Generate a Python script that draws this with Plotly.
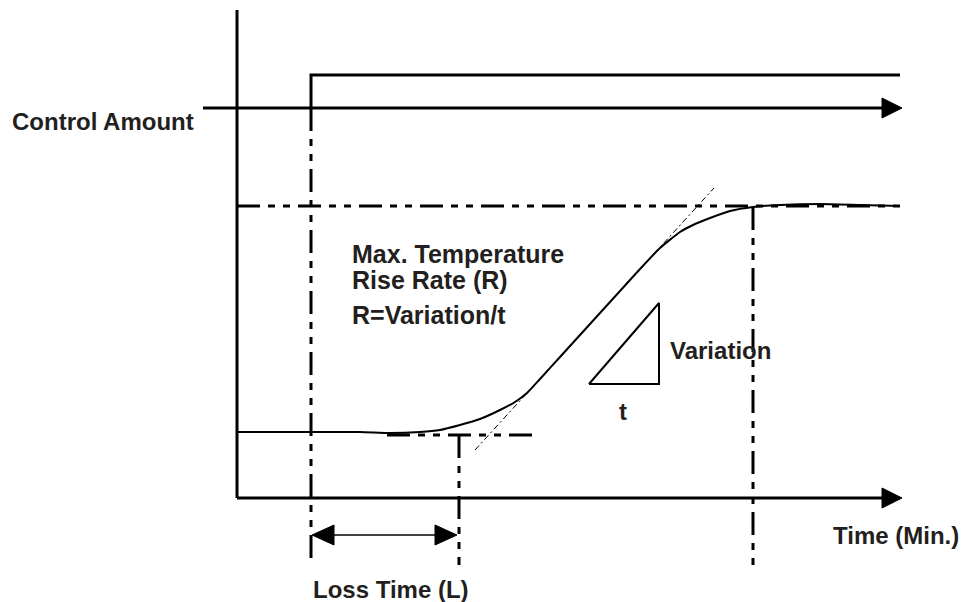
import plotly.graph_objects as go

# ---- data (diagram coordinates: x = time, y = screen-like level, inverted axis) ----
curve_t = [237, 300, 360, 390, 420, 440, 460, 480, 500, 515, 527, 540, 560, 580, 600,
           620, 640, 660, 680, 693, 710, 730, 753, 780, 820, 860, 900]
curve_v = [432, 432, 432, 433, 432, 430, 425, 419, 410, 402, 393, 379, 357, 335, 313,
           291, 269, 248, 232, 225, 218, 211, 207, 205, 204, 205, 206]

tangent_t = [475, 714]
tangent_v = [450, 188]

triangle_t = [589, 659, 659, 589]
triangle_v = [384, 303, 384, 384]

step_t = [311, 311, 900]
step_v = [108, 75, 75]

t_origin, t_step, t_loss, t_settle, t_end = 237, 311, 459, 753, 900
level_ctrl, level_final, level_init, level_axis = 108, 206, 435, 498

labels = {
    "ctrl": "Control Amount",
    "max1": "Max. Temperature",
    "max2": "Rise Rate (R)",
    "max3": "R=Variation/t",
    "var": "Variation",
    "t": "t",
    "time": "Time (Min.)",
    "loss": "Loss Time (L)",
}

W, H = 964, 602
BLACK = "#000000"
TXT = "#231F20"
DASH = "23px,8px,7px,8px,7px,8px"

fig = go.Figure()

# response curve
fig.add_trace(go.Scatter(x=curve_t, y=curve_v, mode="lines",
                         line=dict(color=BLACK, width=2, shape="spline", smoothing=0.5),
                         hoverinfo="skip", showlegend=False))
# tangent
fig.add_trace(go.Scatter(x=tangent_t, y=tangent_v, mode="lines",
                         line=dict(color=BLACK, width=1, dash="6px,3px,2px,3px"),
                         hoverinfo="skip", showlegend=False))
# triangle
fig.add_trace(go.Scatter(x=triangle_t, y=triangle_v, mode="lines",
                         line=dict(color=BLACK, width=2),
                         hoverinfo="skip", showlegend=False))
# step of control amount
fig.add_trace(go.Scatter(x=step_t, y=step_v, mode="lines",
                         line=dict(color=BLACK, width=3),
                         hoverinfo="skip", showlegend=False))

shapes = []

def line(x0, y0, x1, y1, width=3, dash=None):
    d = dict(type="line", xref="x", yref="y", x0=x0, y0=y0, x1=x1, y1=y1,
             line=dict(color=BLACK, width=width))
    if dash:
        d["line"]["dash"] = dash
    shapes.append(d)

def tri(pts):
    p = "M " + " L ".join(f"{a},{b}" for a, b in pts) + " Z"
    shapes.append(dict(type="path", xref="x", yref="y", path=p,
                       fillcolor=BLACK, line=dict(color=BLACK, width=1)))

# axes
line(t_origin, 10, t_origin, level_axis, 3)
line(t_origin, level_axis, 884, level_axis, 3)
tri([(882, level_axis - 10), (902, level_axis), (882, level_axis + 10)])
# control amount arrow
line(203, level_ctrl, 884, level_ctrl, 3)
tri([(882, level_ctrl - 10), (902, level_ctrl), (882, level_ctrl + 10)])
# dashed guides
line(t_origin, level_final, t_end, level_final, 3, DASH)
line(t_step, level_ctrl, t_step, 565, 3, DASH)
line(t_loss, level_init, t_loss, 565, 3, DASH)
line(t_settle, 207, t_settle, 565, 3, DASH)
line(387, level_init, 533, level_init, 3, DASH)
# loss-time double arrow
line(330, 535, 440, 535, 1.5)
tri([(312, 535), (334, 525), (334, 545)])
tri([(457, 535), (435, 525), (435, 545)])

fig.update_layout(shapes=shapes)

def txt(key, x, y, xanchor="left", size=24):
    fig.add_annotation(x=x, y=y, xref="x", yref="y", text=labels[key], showarrow=False,
                       xanchor=xanchor, yanchor="middle",
                       font=dict(family="Liberation Sans, Arial, sans-serif",
                                 size=size, color=TXT, weight="bold"))

txt("ctrl", 10, 121)
txt("max1", 350, 254, size=25)
txt("max2", 350, 280, size=25)
txt("max3", 350, 315, size=25)
txt("var", 668, 350)
txt("t", 623, 411, xanchor="center")
txt("time", 831, 535)
txt("loss", 311, 589)

fig.update_layout(
    width=W, height=H,
    margin=dict(l=0, r=0, t=0, b=0),
    paper_bgcolor="white", plot_bgcolor="white",
    xaxis=dict(range=[0, W], visible=False, fixedrange=True),
    yaxis=dict(range=[H, 0], visible=False, fixedrange=True),
    showlegend=False,
)

fig.write_html("out.html", config={"displayModeBar": False},
               post_script="document.body.style.margin='0';document.body.style.overflow='hidden';")
